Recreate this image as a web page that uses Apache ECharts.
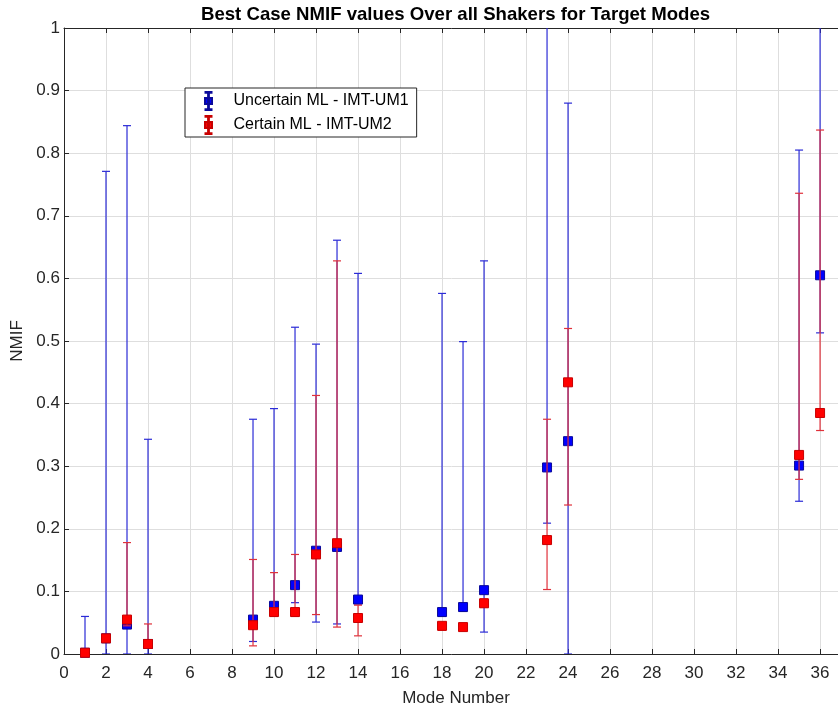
<!DOCTYPE html>
<html>
<head>
<meta charset="utf-8">
<script src="https://cdn.jsdelivr.net/npm/echarts@6/dist/echarts.min.js"></script>
<style>html,body{margin:0;padding:0;background:#fff}#c{width:838px;height:709px}</style>
</head>
<body>
<div id="c"></div>
<script>
const modes    = [1, 2, 3, 4, 9, 10, 11, 12, 13, 14, 18, 19, 20, 23, 24, 35, 36];
const blueVal  = [0.002, 0.025, 0.047, 0.016, 0.055, 0.077, 0.110, 0.165, 0.171, 0.087, 0.067, 0.075, 0.102, 0.298, 0.340, 0.301, 0.605];
const blueLow  = [0, 0, 0, 0, 0.020, 0.068, 0.082, 0.051, 0.048, 0.080, 0.060, 0.068, 0.035, 0.209, 0, 0.244, 0.513];
const blueHigh = [0.060, 0.771, 0.844, 0.343, 0.375, 0.392, 0.522, 0.495, 0.661, 0.608, 0.576, 0.499, 0.628, 1.25, 0.880, 0.805, 1.20];
const redVal   = [0.002, 0.025, 0.055, 0.016, 0.046, 0.067, 0.067, 0.159, 0.177, 0.0575, 0.045, 0.043, 0.081, 0.182, 0.434, 0.318, 0.385];
const redLow   = [0, 0.020, 0.045, 0.010, 0.013, 0.060, 0.060, 0.063, 0.043, 0.029, 0.038, 0.040, 0.075, 0.103, 0.238, 0.279, 0.357];
const redHigh  = [0.005, 0.030, 0.178, 0.048, 0.151, 0.130, 0.159, 0.413, 0.628, 0.078, 0.050, 0.046, 0.088, 0.375, 0.520, 0.736, 0.837];
const xTicks = [0, 2, 4, 6, 8, 10, 12, 14, 16, 18, 20, 22, 24, 26, 28, 30, 32, 34, 36];
const yTicks = [0, 0.1, 0.2, 0.3, 0.4, 0.5, 0.6, 0.7, 0.8, 0.9, 1];
const seriesNames = ['Uncertain ML - IMT-UM1', 'Certain ML - IMT-UM2'];
const titleText = 'Best Case NMIF values Over all Shakers for Target Modes';

const BLUE_LINE = '#2b2bd6', BLUE_MARK = '#0000ff', BLUE_EDGE = '#0a0a9a';
const RED_LINE = '#e0303a', RED_MARK = '#ff0000', RED_EDGE = '#c80000';
const FONT = '"Liberation Sans", Arial, sans-serif';

function errRender(color) {
  return function (params, api) {
    const x = api.value(0), lo = api.value(1), hi = api.value(2);
    const a = api.coord([x, lo]), b = api.coord([x, hi]);
    const hw = 4;
    const st = { stroke: color, lineWidth: 1.2 };
    return {
      type: 'group',
      children: [
        { type: 'line', shape: { x1: a[0], y1: a[1], x2: b[0], y2: b[1] }, style: st },
        { type: 'line', shape: { x1: a[0] - hw, y1: a[1], x2: a[0] + hw, y2: a[1] }, style: st },
        { type: 'line', shape: { x1: b[0] - hw, y1: b[1], x2: b[0] + hw, y2: b[1] }, style: st }
      ]
    };
  };
}

const iconPath = 'path://M2,0H8V0.8H2Z M4.6,0.8H5.4V17.2H4.6Z M2,17.2H8V18H2Z M1.5,6H8.5V12H1.5Z';

const chart = echarts.init(document.getElementById('c'), null, { renderer: 'canvas' });
chart.setOption({
  animation: false,
  backgroundColor: '#fff',
  title: {
    text: titleText, left: 201, top: 5, padding: 0,
    textStyle: { fontFamily: FONT, fontWeight: 'bold', fontSize: 18.6, color: '#000' }
  },
  legend: {
    left: 185, top: 88, orient: 'vertical',
    padding: [3, 8, 2, 19],
    itemGap: 4,
    itemWidth: 10, itemHeight: 18,
    borderColor: '#262626', borderWidth: 1,
    backgroundColor: '#fff',
    textStyle: { fontFamily: FONT, fontSize: 16, color: '#000', padding: [0, 0, 0, 15] },
    data: [
      { name: seriesNames[0], icon: iconPath, itemStyle: { color: BLUE_MARK } },
      { name: seriesNames[1], icon: iconPath, itemStyle: { color: RED_MARK } }
    ],
    selectedMode: false
  },
  grid: { left: 64, top: 28, width: 784, height: 626, containLabel: false, outerBoundsMode: 'none' },
  xAxis: [{
    type: 'value', min: 0, max: 37.33, interval: 2,
    name: 'Mode Number', nameLocation: 'middle', nameGap: 36,
    nameTextStyle: { fontFamily: FONT, fontSize: 17, color: '#262626' },
    axisLine: { show: true, lineStyle: { color: '#262626', width: 1 } },
    axisTick: { show: true, inside: true, length: 5, lineStyle: { color: '#262626' } },
    axisLabel: {
      fontFamily: FONT, fontSize: 17, color: '#262626', margin: 11,
      showMaxLabel: false,
      formatter: v => (xTicks.indexOf(v) >= 0 ? String(v) : '')
    },
    splitLine: { show: true, lineStyle: { color: '#dedede', width: 1 } }
  }, {
    type: 'value', min: 0, max: 37.33, interval: 2, position: 'top',
    axisLine: { show: true, onZero: false, lineStyle: { color: '#262626', width: 1 } },
    axisTick: { show: true, inside: true, length: 5, lineStyle: { color: '#262626' } },
    axisLabel: { show: false },
    splitLine: { show: false }
  }],
  yAxis: [{
    type: 'value', min: 0, max: 1, interval: 0.1,
    name: 'NMIF', nameLocation: 'middle', nameGap: 36, nameRotate: 90,
    nameTextStyle: { fontFamily: FONT, fontSize: 17, color: '#262626' },
    axisLine: { show: true, lineStyle: { color: '#262626', width: 1 } },
    axisTick: { show: true, inside: true, length: 5, lineStyle: { color: '#262626' } },
    axisLabel: {
      fontFamily: FONT, fontSize: 17, color: '#262626', margin: 4,
      formatter: v => { const t = yTicks.find(q => Math.abs(q - v) < 1e-9); return t === undefined ? '' : String(t); }
    },
    splitLine: { show: true, lineStyle: { color: '#dedede', width: 1 } }
  }],
  series: [
    {
      name: 'blueErr', type: 'custom', clip: true, z: 2,
      renderItem: errRender(BLUE_LINE),
      encode: { x: 0, y: [1, 2] },
      data: modes.map((m, i) => [m, blueLow[i], blueHigh[i]])
    },
    {
      name: seriesNames[0], type: 'scatter', symbol: 'rect', symbolSize: 9, z: 3,
      itemStyle: { color: BLUE_MARK, borderColor: BLUE_EDGE, borderWidth: 1, opacity: 1 },
      data: modes.map((m, i) => [m, blueVal[i]])
    },
    {
      name: 'redErr', type: 'custom', clip: true, z: 4,
      renderItem: errRender(RED_LINE),
      encode: { x: 0, y: [1, 2] },
      data: modes.map((m, i) => [m, redLow[i], redHigh[i]])
    },
    {
      name: seriesNames[1], type: 'scatter', symbol: 'rect', symbolSize: 9, z: 5,
      itemStyle: { color: RED_MARK, borderColor: RED_EDGE, borderWidth: 1, opacity: 1 },
      data: modes.map((m, i) => [m, redVal[i]])
    }
  ]
});
</script>
</body>
</html>
